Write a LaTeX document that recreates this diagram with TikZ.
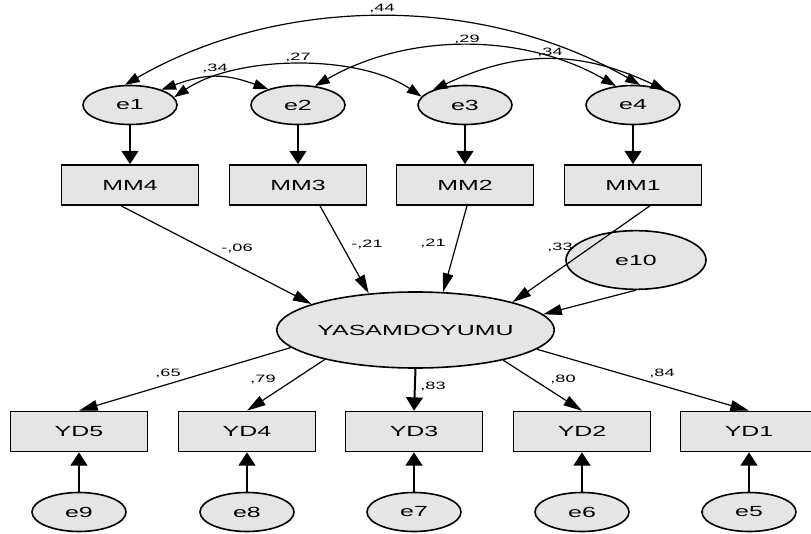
\documentclass[tikz,border=0pt]{standalone}
\usepackage{fontspec}
\setmainfont{Liberation Sans}[FakeStretch=1.7]
\usetikzlibrary{shapes.geometric, arrows.meta}
\definecolor{boxgray}{gray}{0.9}

\begin{document}
\begin{tikzpicture}[x=0.75pt, y=0.75pt,
  obs/.style={draw, line width=1.2pt, fill=boxgray, inner sep=0pt,
    minimum width=102.75pt, minimum height=30pt, font=\fontsize{11}{13}\selectfont},
  err/.style={ellipse, draw, line width=1.2pt, fill=boxgray, inner sep=0pt,
    minimum width=70.5pt, minimum height=29.25pt, font=\fontsize{11}{13}\selectfont},
  arr/.style={line width=0.9pt, -{Triangle[length=14pt, width=8pt]}},
  varr/.style={line width=1.8pt, -{Triangle[length=10pt, width=12.5pt]}},
  cov/.style={line width=0.9pt,
    {Triangle[length=11pt, width=7.5pt]}-{Triangle[length=11pt, width=7.5pt]}},
  coef/.style={font=\fontsize{8}{9}\selectfont, inner sep=0pt}]
  \useasboundingbox (0,0) rectangle (811,533);
  % 误差项 e1-e4 与 MM
  \foreach \i/\x/\m in {1/130/4, 2/298/3, 3/465/2, 4/633/1} {
    \node[err] (e\i) at (\x,428) {e\i};
    \node[obs] (mm\m) at (\x,348) {MM\m};
    \draw[varr] (e\i) -- (mm\m);
  }
  % 潜变量与 e10
  \node[ellipse, draw, line width=1.2pt, fill=boxgray, inner sep=0pt,
    minimum width=206pt, minimum height=57pt, font=\fontsize{11}{13}\selectfont]
    (yas) at (415.5,203) {YASAMDOYUMU};
  \node[err, minimum width=105pt, minimum height=44pt] (e10) at (636,273) {e10};
  % YD 与误差项 e5-e9
  \foreach \i/\x/\e in {5/79/9, 4/247/8, 3/414/7, 2/582/6, 1/749/5} {
    \node[obs] (yd\i) at (\x,101.5) {YD\i};
    \node[err] (e\e) at (\x,21) {e\e};
    \draw[varr] (e\e) -- (yd\i);
  }
  % 回归路径
  \draw[arr] ([xshift=-6.75pt]mm4.south) -- (yas.166.7);
  \draw[arr] ([xshift=16.5pt]mm3.south) -- (yas.142);
  \draw[arr] ([xshift=1.5pt]mm2.south) -- (yas.54);
  \draw[arr] ([xshift=12.75pt]mm1.south) -- (yas.16);
  \draw[arr] (e10.south) -- (yas.7);
  % 因子载荷
  \foreach \i/\a in {5/188.6, 4/198.3, 2/341.3, 1/351.8}
    \draw[arr] (yas.\a) -- (yd\i.north);
  \draw[varr, line width=1.5pt] (yas.south) -- (yd3.north);
  % 协方差
  \draw[cov] (e1.104) .. controls +(30:181) and +(150:181) .. (e4.71);
  \draw[cov] (e2.48) .. controls +(30:107) and +(150:107) .. (e4.132);
  \draw[cov] (e1.10) .. controls +(34:76) and +(146:76) .. (e3.169);
  \draw[cov] (e1.26) .. controls +(20:47) and +(160:47) .. (e2.152);
  \draw[cov] (e3.155) .. controls +(25:95) and +(155:95) .. (e4.25);
  % 系数
  \node[coef] (l44) at (382,524) {,44};
  \node[coef] (l29) at (467,494) {,29};
  \node[coef] (l27) at (298,476) {,27};
  \node[coef] (l34a) at (215,465) {,34};
  \node[coef] (l34b) at (550,481) {,34};
  \node[coef] (l06) at (237,285) {-,06};
  \node[coef] (l21a) at (367,289) {-,21};
  \node[coef] (l21b) at (433,290) {,21};
  \node[coef] (l33) at (560,286) {,33};
  \node[coef] (l65) at (168,160) {,65};
  \node[coef] (l79) at (263,154) {,79};
  \node[coef] (l83) at (433,147) {,83};
  \node[coef] (l80) at (563,154) {,80};
  \node[coef] (l84) at (662,160) {,84};
\end{tikzpicture}
\end{document}
